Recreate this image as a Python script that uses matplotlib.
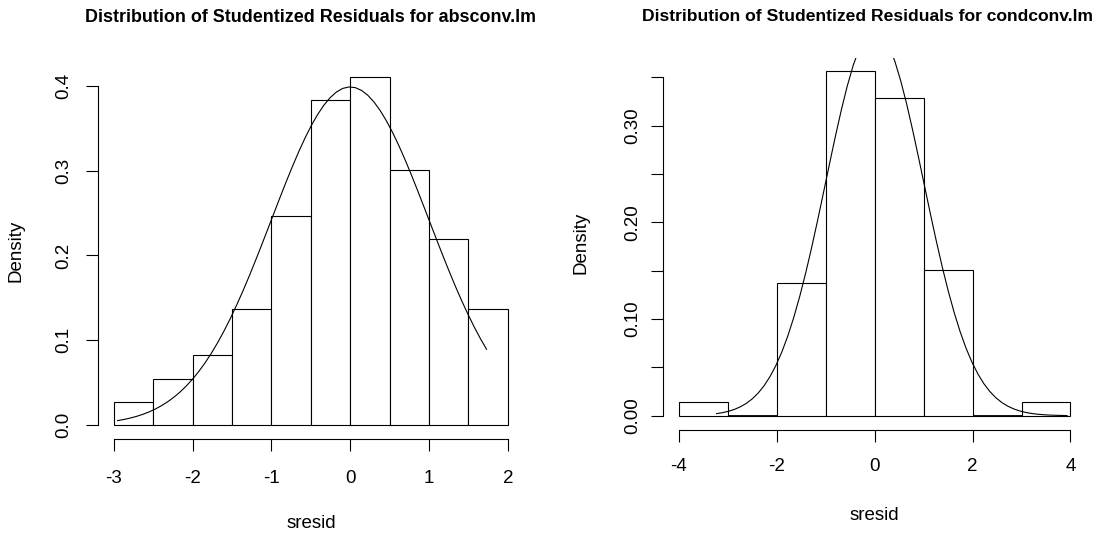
import numpy as np
import matplotlib.pyplot as plt

plt.rcParams['font.family'] = ['Liberation Sans', 'DejaVu Sans']
plt.rcParams['axes.unicode_minus'] = False

W, H = 1107, 536

# absconv.lm: histogram of studentized residuals (bin edges and counts)
abs_edges = [-3.0, -2.5, -2.0, -1.5, -1.0, -0.5, 0.0, 0.5, 1.0, 1.5, 2.0]
abs_counts = [1, 2, 3, 5, 9, 14, 15, 11, 8, 5]
abs_curve_lim = (-2.95, 1.73)
abs_xticks = [-3, -2, -1, 0, 1, 2]
abs_yticks = [0.0, 0.1, 0.2, 0.3, 0.4]
abs_ylabels = ['0.0', '0.1', '0.2', '0.3', '0.4']

# condconv.lm
cond_edges = [-4, -3, -2, -1, 0, 1, 2, 3, 4]
cond_counts = [1, 0, 10, 26, 24, 11, 0, 1]
cond_curve_lim = (-3.23, 3.93)
cond_xticks = [-4, -2, 0, 2, 4]
cond_yticks = [0.0, 0.05, 0.10, 0.15, 0.20, 0.25, 0.30, 0.35]
cond_ylabels = ['0.00', '', '0.10', '', '0.20', '', '0.30', '']

# normal reference curve
norm_mean, norm_sd = 0.0, 1.0


def px_rect(x0, x1, ytop, ybot):
    return [x0 / W, 1 - ybot / H, (x1 - x0) / W, (ybot - ytop) / H]


def hist_panel(ax, edges, counts, curve_lim, xticks, yticks, ylabels, xpad, ypad):
    edges = np.asarray(edges, float)
    counts = np.asarray(counts, float)
    widths = np.diff(edges)
    dens = counts / (counts.sum() * widths)
    ax.bar(edges[:-1], dens, width=widths, align='edge',
           facecolor='white', edgecolor='black', linewidth=0.8)
    # empty bins show up as a flat line on the baseline
    for left, right, d in zip(edges[:-1], edges[1:], dens):
        if d == 0:
            ax.plot([left, right], [0, 0], color='black', linewidth=1.3,
                    solid_capstyle='butt')
    x = np.linspace(curve_lim[0], curve_lim[1], 60)
    y = np.exp(-0.5 * ((x - norm_mean) / norm_sd) ** 2) / (norm_sd * np.sqrt(2 * np.pi))
    ax.plot(x, y, color='black', linewidth=0.8)

    rng = edges[-1] - edges[0]
    ax.set_xlim(edges[0] - 0.04 * rng, edges[-1] + 0.04 * rng)
    ax.set_ylim(-0.04 * dens.max(), 1.04 * dens.max())

    for s in ['top', 'right']:
        ax.spines[s].set_visible(False)
    ax.spines['left'].set_bounds(yticks[0], yticks[-1])
    ax.spines['bottom'].set_bounds(xticks[0], xticks[-1])
    for s in ['left', 'bottom']:
        ax.spines[s].set_linewidth(0.8)

    ax.set_xticks(xticks)
    ax.set_xticklabels([str(t) for t in xticks])
    ax.set_yticks(yticks)
    ax.set_yticklabels(ylabels, rotation=90, va='center')
    ax.tick_params(direction='out', length=8.3, width=0.8, labelsize=13.5)
    ax.tick_params(axis='x', pad=xpad)
    ax.tick_params(axis='y', pad=ypad)


fig = plt.figure(figsize=(W / 100, H / 100), dpi=100)

ax1 = fig.add_axes(px_rect(97.9, 523.6, 62.8, 438.9))
hist_panel(ax1, abs_edges, abs_counts, abs_curve_lim, abs_xticks,
           abs_yticks, abs_ylabels, xpad=14.4, ypad=10.4)

ax2 = fig.add_axes(px_rect(663.3, 1086.1, 57.5, 429.5))
hist_panel(ax2, cond_edges, cond_counts, cond_curve_lim, cond_xticks,
           cond_yticks, cond_ylabels, xpad=12, ypad=7.3)


def ftext(x, y, s, **kw):
    fig.text(x / W, 1 - y / H, s, **kw)


ftext(310.5, 22.5, 'Distribution of Studentized Residuals for absconv.lm',
      ha='center', va='baseline', fontsize=12.9, fontweight='bold')
ftext(868, 20.7, 'Distribution of Studentized Residuals for condconv.lm',
      ha='center', va='baseline', fontsize=12.6, fontweight='bold')

ftext(311, 523.3, 'sresid', ha='center', va='center', fontsize=13.5)
ftext(874, 515, 'sresid', ha='center', va='center', fontsize=13.5)
ftext(16, 250.7, 'Density', ha='center', va='center', rotation=90, fontsize=13.5)
ftext(581, 243.3, 'Density', ha='center', va='center', rotation=90, fontsize=13.5)

fig.savefig('out.png', dpi=100, facecolor='white')
